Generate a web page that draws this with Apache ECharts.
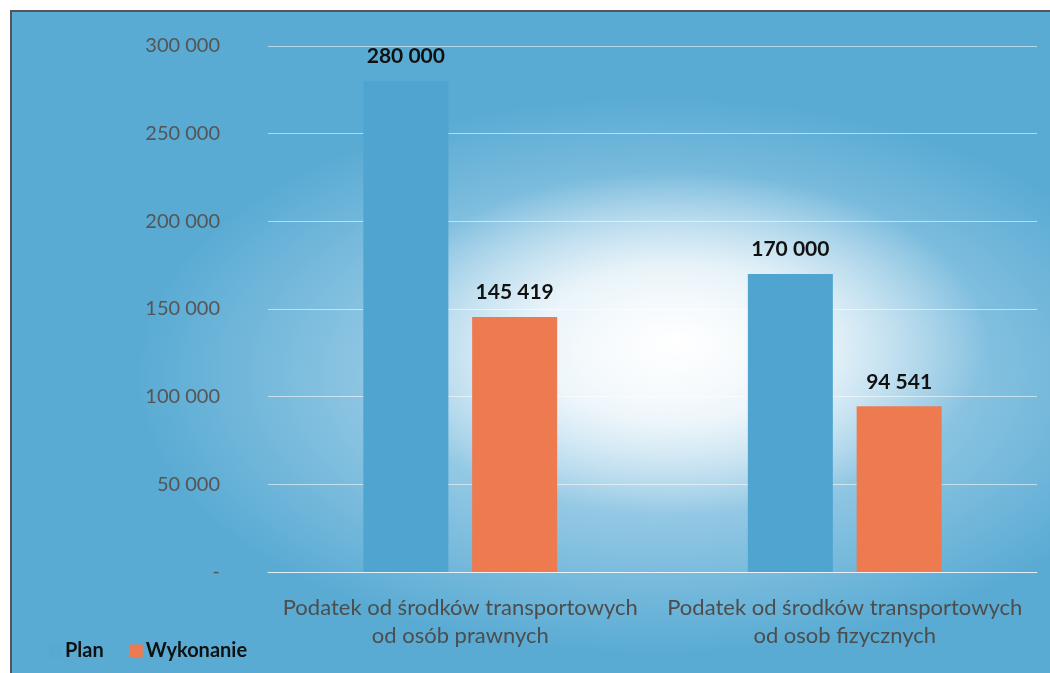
<!DOCTYPE html>
<html>
<head>
<meta charset="utf-8">
<script src="https://cdn.jsdelivr.net/npm/echarts@6/dist/echarts.min.js"></script>
<style>
  html, body { margin: 0; padding: 0; background: #fff; overflow: hidden; }
  .frame {
    position: absolute; left: 10px; top: 10px; width: 1040px; height: 663px;
    border-top: 2px solid #555; border-left: 2px solid #555; box-sizing: border-box;
    background:
      radial-gradient(ellipse 30% 26% at 64% 50%, rgba(255,255,255,1) 0%, rgba(255,255,255,0.75) 45%, rgba(255,255,255,0) 100%),
      radial-gradient(ellipse 50% 42% at 62% 55%, rgba(235,245,252,0.8) 0%, rgba(235,245,252,0) 100%),
      #5aabd4;
  }
  #chart { position: absolute; left: 0; top: 0; width: 1050px; height: 673px; }
</style>
</head>
<body>
<div class="frame"></div>
<div id="chart"></div>
<script>
  const categories = [
    'Podatek od środków transportowych\nod osób prawnych',
    'Podatek od środków transportowych\nod osob fizycznych'
  ];
  const planValues = [280000, 170000];
  const wykonanieValues = [145419, 94541];
  const seriesNames = ['Plan', 'Wykonanie'];

  // 280000 -> "280 000", 0 -> "-"
  function fmt(v) {
    if (v === 0) return '-';
    return String(v).replace(/\B(?=(\d{3})+(?!\d))/g, ' ');
  }

  const chart = echarts.init(document.getElementById('chart'));

  const labelStyle = {
    show: true,
    position: 'top',
    distance: 14,
    fontFamily: 'Lato',
    fontWeight: 'bold',
    fontSize: 21,
    color: '#111',
    formatter: (p) => fmt(p.value)
  };

  chart.setOption({
    backgroundColor: 'transparent',
    textStyle: { fontFamily: 'Lato' },
    grid: { left: 268, right: 13, top: 46, bottom: 101 },
    legend: {
      // the Plan marker is lost in the blue background in the original
      data: [
        { name: seriesNames[0], itemStyle: { color: '#58a9d2' } },
        { name: seriesNames[1] }
      ],
      left: 44,
      top: 636,
      itemWidth: 13,
      itemHeight: 13,
      itemGap: 26,
      icon: 'rect',
      textStyle: { fontFamily: 'Lato', fontWeight: 'bold', fontSize: 20, color: '#111', padding: [0, 0, 0, -2] }
    },
    xAxis: {
      type: 'category',
      data: categories,
      axisLine: { lineStyle: { color: 'rgba(255,255,255,0.6)' } },
      axisTick: { show: false },
      axisLabel: { fontSize: 22, color: '#4d4d4d', lineHeight: 28, margin: 22, interval: 0 }
    },
    yAxis: {
      type: 'value',
      min: 0,
      max: 300000,
      interval: 50000,
      axisLine: { show: false },
      axisTick: { show: false },
      splitLine: { lineStyle: { color: 'rgba(255,255,255,0.55)' } },
      axisLabel: { fontSize: 20, color: '#555', margin: 48, formatter: fmt }
    },
    series: [
      {
        name: seriesNames[0],
        type: 'bar',
        data: planValues,
        barWidth: 85,
        barGap: '28%',
        itemStyle: { color: '#4fa4d0' },
        label: labelStyle
      },
      {
        name: seriesNames[1],
        type: 'bar',
        data: wykonanieValues,
        barWidth: 85,
        itemStyle: { color: '#ee7a50' },
        label: labelStyle
      }
    ]
  });
</script>
</body>
</html>
